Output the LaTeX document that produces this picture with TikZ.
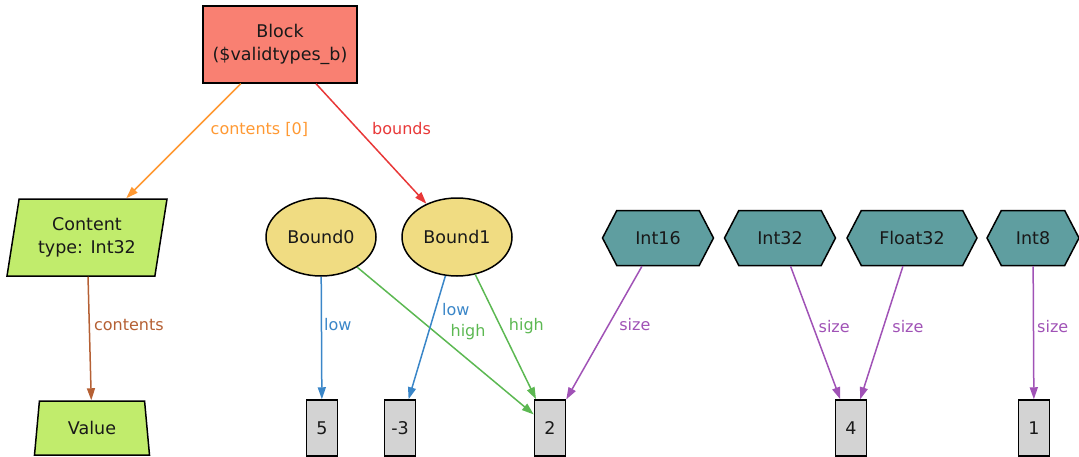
\documentclass[tikz,border=0pt]{standalone}
\usepackage{fontspec}
\setmainfont{DejaVu Sans}
\usetikzlibrary{shapes.geometric,shapes.symbols,arrows.meta}
\definecolor{blockred}{RGB}{249,128,114}
\definecolor{limegreen}{RGB}{193,236,108}
\definecolor{buff}{RGB}{240,220,130}
\definecolor{cadet}{RGB}{95,158,160}
\definecolor{boxgray}{RGB}{211,211,211}
\definecolor{eorange}{RGB}{255,153,51}
\definecolor{ered}{RGB}{232,56,56}
\definecolor{ebrown}{RGB}{181,96,52}
\definecolor{eblue}{RGB}{58,134,200}
\definecolor{egreen}{RGB}{92,184,82}
\definecolor{epurple}{RGB}{160,82,182}
\begin{document}
\begin{tikzpicture}[x=1pt,y=-1pt,
  nodebase/.style={draw=black, line width=1.5pt, font=\fontsize{17.5}{23}\selectfont, align=center, inner sep=0pt, text=black!90},
  blockbox/.style={nodebase, rectangle, fill=blockred, minimum width=154pt, minimum height=77pt},
  parabox/.style={nodebase, trapezium, trapezium left angle=73, trapezium right angle=107, trapezium stretches body, fill=limegreen, minimum width=160pt, minimum height=77pt},
  trapbox/.style={nodebase, trapezium, trapezium left angle=70, trapezium right angle=70, trapezium stretches body, fill=limegreen, minimum width=115pt, minimum height=54pt},
  boundbox/.style={nodebase, ellipse, fill=buff, minimum width=110pt, minimum height=78pt},
  hexbox/.style={nodebase, signal, signal to=east and west, signal pointer angle=125, fill=cadet, minimum height=55pt},
  valbox/.style={nodebase, rectangle, fill=boxgray, minimum width=31pt, minimum height=56pt},
  edgeline/.style={line width=1.5pt, -{Triangle[length=12pt,width=8pt]}},
  elabel/.style={font=\fontsize{16}{19}\selectfont, inner sep=0pt, anchor=west}
]
\useasboundingbox (0,0) rectangle (1079,456);

\node[blockbox] (block) at (280,44.5) {Block\\(\$validtypes\_b)};
\node[parabox] (content) at (87,237.5) {Content\\type: Int32};
\node[trapbox] (value) at (92,428) {Value};
\node[boundbox] (bound0) at (321,237) {Bound0};
\node[boundbox] (bound1) at (457,237) {Bound1};
\node[hexbox, minimum width=111pt] (int16) at (658,238) {Int16};
\node[hexbox, minimum width=111pt] (int32) at (780,238) {Int32};
\node[hexbox, minimum width=130pt] (float32) at (912,238) {Float32};
\node[hexbox, minimum width=92pt] (int8) at (1033,238) {Int8};
\node[valbox] (v5) at (322,428) {5};
\node[valbox] (vm3) at (400,428) {-3};
\node[valbox] (v2) at (550,428) {2};
\node[valbox] (v4) at (851,428) {4};
\node[valbox] (v1) at (1034,428) {1};

\draw[edgeline, eorange] (block) -- node[elabel, pos=0.4, xshift=15pt, text=eorange] {contents [0]} (content);
\draw[edgeline, ered] (block) -- node[elabel, pos=0.375, xshift=14pt, text=ered] {bounds} (bound1);
\draw[edgeline, ebrown] (content) -- node[elabel, pos=0.39, xshift=4pt, text=ebrown] {contents} (value);
\draw[edgeline, eblue] (bound0) -- node[elabel, pos=0.39, xshift=2pt, text=eblue] {low} (v5);
\draw[edgeline, egreen] (bound0) -- node[elabel, pos=0.44, xshift=15pt, text=egreen] {high} (v2);
\draw[edgeline, eblue] (bound1) -- node[elabel, pos=0.27, xshift=6pt, text=eblue] {low} (vm3);
\draw[edgeline, egreen] (bound1) -- node[elabel, pos=0.41, xshift=8pt, text=egreen] {high} (v2);
\draw[edgeline, epurple] (int16) -- node[elabel, pos=0.44, xshift=10pt, text=epurple] {size} (v2);
\draw[edgeline, epurple] (int32) -- node[elabel, pos=0.45, xshift=5pt, text=epurple] {size} (v4);
\draw[edgeline, epurple] (float32) -- node[elabel, pos=0.45, xshift=8pt, text=epurple] {size} (v4);
\draw[edgeline, epurple] (int8) -- node[elabel, pos=0.45, xshift=3pt, text=epurple] {size} (v1);
\end{tikzpicture}
\end{document}
